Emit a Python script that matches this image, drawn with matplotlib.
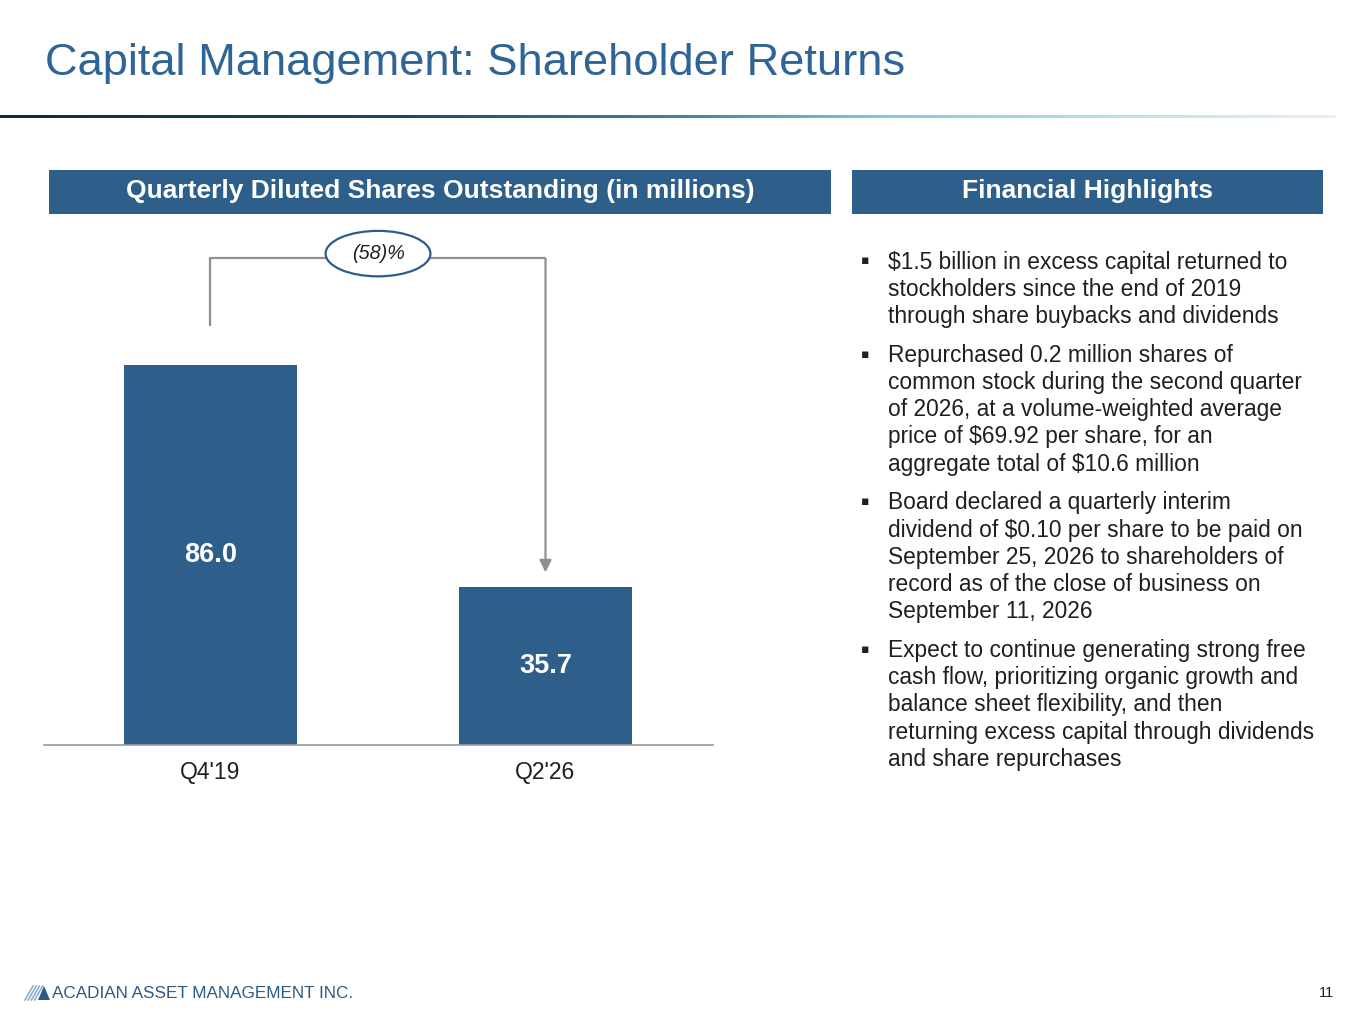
import matplotlib
matplotlib.use("Agg")
import matplotlib.pyplot as plt
import numpy as np
from matplotlib.patches import Rectangle, Ellipse, Polygon
from matplotlib.colors import LinearSegmentedColormap

plt.rcParams['font.family'] = ['Liberation Sans', 'DejaVu Sans']

# ---- data ----
categories = ["Q4'19", "Q2'26"]
shares = [86.0, 35.7]
change_label = "(58)%"
title = "Capital Management: Shareholder Returns"
left_header = "Quarterly Diluted Shares Outstanding (in millions)"
right_header = "Financial Highlights"
bullets = [
    ["$1.5 billion in excess capital returned to",
     "stockholders since the end of 2019",
     "through share buybacks and dividends"],
    ["Repurchased 0.2 million shares of",
     "common stock during the second quarter",
     "of 2026, at a volume-weighted average",
     "price of $69.92 per share, for an",
     "aggregate total of $10.6 million"],
    ["Board declared a quarterly interim",
     "dividend of $0.10 per share to be paid on",
     "September 25, 2026 to shareholders of",
     "record as of the close of business on",
     "September 11, 2026"],
    ["Expect to continue generating strong free",
     "cash flow, prioritizing organic growth and",
     "balance sheet flexibility, and then",
     "returning excess capital through dividends",
     "and share repurchases"],
]
footer = "ACADIAN ASSET MANAGEMENT INC."
page = "11"

W, H = 1365, 1024
BLUE = "#2D5F8A"
TITLE_BLUE = "#2F6596"
GRAY = "#8F8F8F"
TXT = "#1F1F1F"

fig = plt.figure(figsize=(W / 100, H / 100), dpi=100)
fig.patch.set_facecolor("white")

def fx(x):
    return x / W

def fy(y):
    return 1 - y / H

# title
fig.text(fx(45), fy(63), title, fontsize=32.6, color=TITLE_BLUE, ha="left", va="center")

# gradient rule
gax = fig.add_axes([0, fy(118), fx(1336), 3.5 / H])
cmap = LinearSegmentedColormap.from_list(
    "rule", [(0, "#0E2B3E"), (0.3, "#1C4A64"), (0.52, "#3F88A6"),
             (0.66, "#80CADD"), (0.85, "#BFE2EA"), (1.0, "#E6F1F3")])
gax.imshow(np.linspace(0, 1, 512)[None, :], aspect="auto", cmap=cmap,
           extent=[0, 1, 0, 1])
gax.axis("off")

# header boxes
for (x0, x1, label) in [(49, 831, left_header), (852, 1323, right_header)]:
    fig.patches.append(Rectangle((fx(x0), fy(214)), fx(x1 - x0), 44 / H,
                                 transform=fig.transFigure, facecolor=BLUE,
                                 edgecolor="none"))
    fig.text(fx((x0 + x1) / 2), fy(191), label, fontsize=19, fontweight="bold",
             color="white", ha="center", va="center")

# bar chart axes
left_px, right_px, base_px, top_px = 44, 713, 745, 230
ax = fig.add_axes([fx(left_px), fy(base_px), fx(right_px - left_px),
                   (base_px - top_px) / H])
pos = np.arange(len(categories))
ax.bar(pos, shares, width=0.516, color=BLUE, zorder=2)
ax.set_xlim(-0.497, 1.5)
ax.set_ylim(0, (base_px - top_px) / 4.415)
for s in ["top", "right", "left"]:
    ax.spines[s].set_visible(False)
ax.spines["bottom"].set_color("#9A9A9A")
ax.spines["bottom"].set_linewidth(1.2)
ax.set_yticks([])
ax.set_xticks(pos)
ax.set_xticklabels(categories, fontsize=16.5, color=TXT)
ax.tick_params(axis="x", length=0, pad=11.5)
for p, v in zip(pos, shares):
    ax.text(p, v / 2, f"{v:.1f}", ha="center", va="center", color="white",
            fontsize=19.5, fontweight="bold")

# bracket with arrow
y_top = shares[0] + 24.2
ax.plot([pos[0], pos[0], pos[1]], [shares[0] + 8.8, y_top, y_top],
        color=GRAY, lw=1.6, clip_on=False, solid_capstyle="butt")
ax.annotate("", xy=(pos[1], shares[1] + 3.4), xytext=(pos[1], y_top),
            arrowprops=dict(arrowstyle="-|>", color=GRAY, lw=1.6,
                            mutation_scale=18, shrinkA=0, shrinkB=0),
            annotation_clip=False)
ax.add_patch(Ellipse(((pos[0] + pos[1]) / 2, y_top + 1.1), 0.313, 10.3,
                     facecolor="white", edgecolor="#2E5E87", lw=1.6,
                     clip_on=False, zorder=5))
ax.text((pos[0] + pos[1]) / 2, y_top + 1.1, change_label, ha="center",
        va="center", fontsize=14.2, fontstyle="italic", color=TXT, zorder=6)

# bullets
y = 262
for para in bullets:
    fig.text(fx(865), fy(y - 1), "\u25aa", fontsize=9, color=TXT, ha="center",
             va="center", family=["DejaVu Sans"])
    for line in para:
        fig.text(fx(888), fy(y), line, fontsize=16.4, color=TXT, ha="left",
                 va="center")
        y += 27.2
    y += 11.6

# footer logo
for i in range(4):
    x0 = 25 + i * 3.2
    fig.lines.append(plt.Line2D([fx(x0), fx(x0 + 8)], [fy(1000), fy(986)],
                                transform=fig.transFigure, color="#7FA9CF",
                                lw=1.1))
fig.patches.append(Polygon([[fx(38), fy(1000)], [fx(44), fy(986)],
                            [fx(50), fy(1000)]], closed=True,
                           transform=fig.transFigure, facecolor="#2B5A84",
                           edgecolor="none"))
fig.text(fx(52), fy(993), footer, fontsize=12.3, color="#2B5A84", ha="left",
         va="center")
fig.text(fx(1326), fy(993), page, fontsize=10.5, color=TXT, ha="center",
         va="center")

fig.savefig("out.png", dpi=100, facecolor="white")
